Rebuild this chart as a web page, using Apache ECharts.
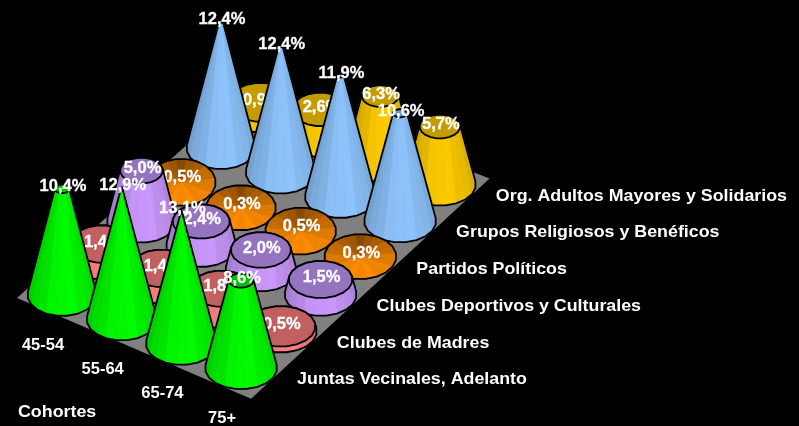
<!DOCTYPE html>
<html><head><meta charset="utf-8">
<style>html,body{margin:0;padding:0;background:#000}#c{width:799px;height:426px}</style>
<script src="https://cdn.jsdelivr.net/npm/echarts@6/dist/echarts.min.js"></script>
</head><body><div id="c"></div>
<script>
const cohorts = ['45-54','55-64','65-74','75+'];
const groups = ['Juntas Vecinales, Adelanto','Clubes de Madres','Clubes Deportivos y Culturales','Partidos Políticos','Grupos Religiosos y Benéficos','Org. Adultos Mayores y Solidarios'];
const juntas    = [10.4,12.9,13.1,8.6];
const madres    = [1.4,1.4,1.8,0.5];
const deportivos= [5.0,2.4,2.0,1.5];
const partidos  = [0.5,0.3,0.5,0.3];
const religiosos= [12.4,12.4,11.9,10.6];
const adultos   = [0.9,2.6,6.3,5.7];
const seriesValues = [juntas,madres,deportivos,partidos,religiosos,adultos];
const axisTitle = 'Cohortes';

const sideColors = ['#00ff00','#ff8080','#cc99ff','#ff9900','#8fc6ff','#ffcc00'];
const capColors  = ['#00c000','#c06060','#9473bf','#d08000','#6c9ad0','#c49c00'];
const FONT = 'bold 16.5px "Liberation Sans", Arial, sans-serif';
const AXFONT = 'bold 16.5px "Liberation Sans", Arial, sans-serif';
const SIDES = 20, RX = 34.5, RY = 21, LW = 1.8;
const maxV = Math.max(...seriesValues.flat());

// oblique projection of (cohort, group, value) into the hidden value axes
function project(i,j,v){ return [62+59.7*i+39.75*j, 131-24.4*i+36.7*j+10.2*v]; }

function mix(hex,f){
  const n=parseInt(hex.slice(1),16);
  const c=[n>>16,(n>>8)&255,n&255].map(x=>Math.max(0,Math.min(255,Math.round(x*f))));
  return 'rgb('+c.join(',')+')';
}
function hull(pts){
  const p=pts.slice().sort((a,b)=>a[0]-b[0]||a[1]-b[1]);
  const cr=(o,a,b)=>(a[0]-o[0])*(b[1]-o[1])-(a[1]-o[1])*(b[0]-o[0]);
  const lo=[],up=[];
  for(const q of p){while(lo.length>1&&cr(lo[lo.length-2],lo[lo.length-1],q)<=0)lo.pop();lo.push(q);}
  for(const q of p.slice().reverse()){while(up.length>1&&cr(up[up.length-2],up[up.length-1],q)<=0)up.pop();up.push(q);}
  return lo.slice(0,-1).concat(up.slice(0,-1));
}
function ring(c,rx,ry){
  const a=[];
  for(let k=0;k<SIDES;k++){const t=(k+0.5)/SIDES*2*Math.PI;a.push([c[0]+rx*Math.cos(t),c[1]+ry*Math.sin(t)]);}
  return a;
}
function label(v,top){
  return {type:'text',silent:true,style:{text:v.toFixed(1).replace('.',',')+'%',x:top[0]+1,y:top[1]-2,fill:'#fff',stroke:'#fff',lineWidth:.3,font:FONT,align:'center',verticalAlign:'middle'}};
}
function coneItem(j){
  return function(params,api){
    const i=api.value(0), v=api.value(1);
    const base=api.coord(project(i,j,0)), top=api.coord(project(i,j,v));
    const k=1-v/maxV, rw=RX+i*0.5, rh=RY;
    const children=[];
    if(j===3){
      // flat discs: the low orange marks show only their fan-shaded face
      const mid=[base[0],(base[1]+top[1])/2], e=ring(mid,rw,rh+(base[1]-top[1])/2);
      for(let n=0;n<SIDES;n++){
        const m=(n+1)%SIDES, s=(Math.sin((n+1)/SIDES*2*Math.PI)+1)/2;
        const col=mix('#ff8c00',(0.55+0.45*Math.sqrt(s))*(n%2?1:0.96));
        children.push({type:'polygon',silent:true,shape:{points:[mid,e[n],e[m]]},style:{fill:col,stroke:col,lineWidth:.5}});
      }
      children.push({type:'polygon',silent:true,shape:{points:e},style:{fill:'none',stroke:'#000',lineWidth:LW}});
      children.push(label(v,top));
      return {type:'group',children};
    }
    const b=ring(base,rw,rh), t=ring(top,rw*k,rh*k);
    const side=sideColors[j], cap=capColors[j];
    const order=[...Array(SIDES).keys()].sort((p,q)=>Math.sin((p+.5)/SIDES*6.283)-Math.sin((q+.5)/SIDES*6.283));
    for(const n of order){
      const m=(n+1)%SIDES, ang=(n+1)/SIDES*2*Math.PI, x=Math.cos(ang);
      const f=(1-0.16*Math.pow(Math.abs(x-0.1),1.6))*(n%2?1:0.98);
      const col=mix(side,f);
      children.push({type:'polygon',silent:true,shape:{points:[b[n],b[m],t[m],t[n]]},style:{fill:col,stroke:col,lineWidth:.6}});
    }
    children.push({type:'polygon',silent:true,shape:{points:hull(b.concat(t))},style:{fill:'none',stroke:'#000',lineWidth:LW}});
    if(k>0.01){
      children.push({type:'polygon',silent:true,shape:{points:t},style:{fill:cap,stroke:'#000',lineWidth:LW}});
    }
    children.push(label(v,top));
    return {type:'group',children};
  };
}
const floorCorners=[[-0.485,-0.404],[3.5,-0.5],[3.5,5.5],[-0.42,5.42]];
function floorItem(params,api){
  return {type:'polygon',silent:true,shape:{points:floorCorners.map(c=>api.coord(project(c[0],c[1],0)))},style:{fill:'#808080'}};
}
function textEl(api,pos,text,align,sx){
  const p=api.coord(pos);
  return {type:'text',silent:true,x:p[0],y:p[1],scaleX:sx,style:{text,x:0,y:0,fill:'#fff',font:AXFONT,align,verticalAlign:'middle'}};
}
const series=[{type:'custom',name:'Piso',coordinateSystem:'cartesian2d',clip:false,data:[[0,0]],renderItem:floorItem}];
for(let j=groups.length-1;j>=0;j--){
  series.push({type:'custom',name:groups[j],coordinateSystem:'cartesian2d',clip:false,
    data:seriesValues[j].map((v,i)=>[i,v]),renderItem:coneItem(j)});
}
series.push({type:'custom',name:'Grupos',coordinateSystem:'cartesian2d',clip:false,data:groups.map((g,j)=>[j]),
  renderItem(p,api){const j=api.value(0);const q=project(3,j,0);return textEl(api,[q[0]+56,q[1]-11.5],groups[j],'left',1.08);}});
series.push({type:'custom',name:'Cohortes',coordinateSystem:'cartesian2d',clip:false,data:cohorts.map((c,i)=>[i]),
  renderItem(p,api){const i=api.value(0);const q=project(i,0,0);return textEl(api,[q[0]-19,q[1]-50],cohorts[i],'center',1.0);}});
series.push({type:'custom',name:'Titulo',coordinateSystem:'cartesian2d',clip:false,data:[[0]],
  renderItem(p,api){const q=project(0,0,0);return textEl(api,[q[0]-44,q[1]-117],axisTitle,'left',1.08);}});

const chart=echarts.init(document.getElementById('c'),null,{width:799,height:426});
chart.setOption({
  backgroundColor:'#000',animation:false,
  grid:{left:0,right:0,top:0,bottom:0},
  xAxis:{type:'value',min:0,max:799,show:false},
  yAxis:{type:'value',min:0,max:426,show:false},
  series
});
</script></body></html>
